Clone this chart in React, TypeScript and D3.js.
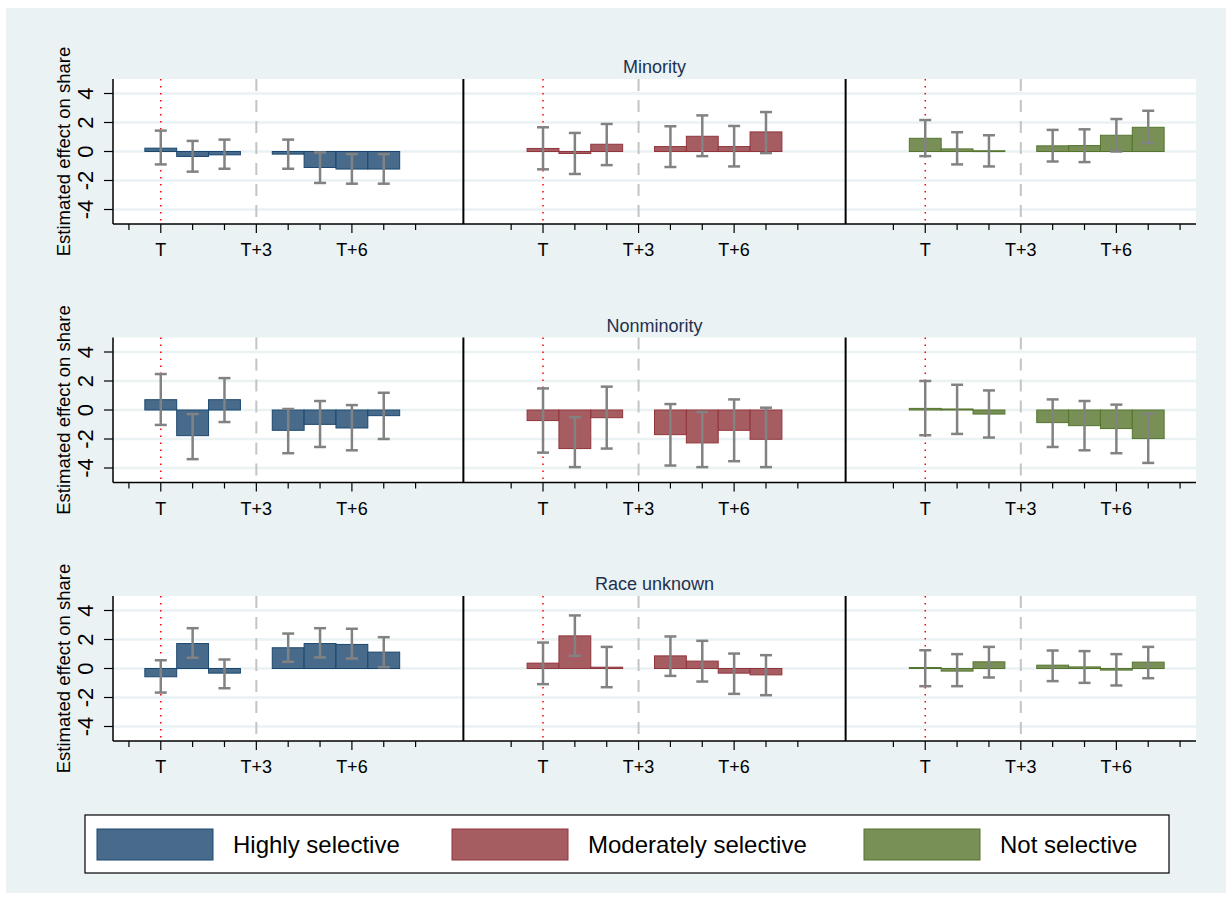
import React from 'react';
import * as d3 from 'd3';

// event periods that have an estimate (T+3 is the omitted reference)
const periods = [0, 1, 2, 4, 5, 6, 7];
const tickPeriods = [-1, 0, 1, 2, 3, 4, 5, 6, 7, 8];
const tickLabels: Record<number, string> = { 0: 'T', 3: 'T+3', 6: 'T+6' };
const yTicks = [-4, -2, 0, 2, 4];

const selectivity = ['Highly selective', 'Moderately selective', 'Not selective'];
const fills = ['#486b8c', '#a65d62', '#789056'];
const strokes = ['#1a476f', '#90353b', '#55752f'];

const panels = ['Minority', 'Nonminority', 'Race unknown'];

// rows: highly, moderately, not selective
const minorityEst = [
  [0.23, -0.34, -0.23, -0.18, -1.1, -1.21, -1.21],
  [0.21, -0.14, 0.5, 0.34, 1.05, 0.34, 1.35],
  [0.91, 0.18, 0.05, 0.39, 0.41, 1.12, 1.67],
];
const minorityLo = [
  [-0.89, -1.39, -1.19, -1.19, -2.17, -2.22, -2.22],
  [-1.23, -1.55, -0.94, -1.07, -0.32, -1.03, -0.11],
  [-0.32, -0.89, -1.03, -0.69, -0.73, 0.0, 0.59],
];
const minorityHi = [
  [1.44, 0.73, 0.82, 0.82, -0.07, -0.18, -0.18],
  [1.67, 1.28, 1.9, 1.74, 2.49, 1.76, 2.72],
  [2.17, 1.33, 1.12, 1.49, 1.53, 2.24, 2.81],
];

const nonminorityEst = [
  [0.71, -1.77, 0.71, -1.4, -0.99, -1.24, -0.39],
  [-0.73, -2.66, -0.53, -1.7, -2.27, -1.4, -2.02],
  [0.11, 0.07, -0.28, -0.87, -1.08, -1.28, -1.97],
];
const nonminorityLo = [
  [-1.03, -3.39, -0.83, -2.98, -2.55, -2.78, -2.0],
  [-2.94, -3.94, -2.66, -3.83, -3.94, -3.53, -3.94],
  [-1.74, -1.65, -1.9, -2.55, -2.78, -2.98, -3.65],
];
const nonminorityHi = [
  [2.48, -0.28, 2.2, 0.07, 0.62, 0.34, 1.19],
  [1.49, -0.5, 1.61, 0.41, -0.14, 0.73, 0.16],
  [2.0, 1.74, 1.35, 0.73, 0.62, 0.37, -0.25],
];

const unknownEst = [
  [-0.57, 1.72, -0.32, 1.43, 1.72, 1.66, 1.13],
  [0.37, 2.25, 0.09, 0.87, 0.51, -0.32, -0.44],
  [0.07, -0.18, 0.46, 0.23, 0.11, -0.11, 0.44],
];
const unknownLo = [
  [-1.66, 0.74, -1.36, 0.46, 0.76, 0.69, 0.09],
  [-1.08, 0.87, -1.29, -0.51, -0.9, -1.75, -1.84],
  [-1.22, -1.22, -0.62, -0.87, -0.99, -1.17, -0.67],
];
const unknownHi = [
  [0.57, 2.78, 0.62, 2.41, 2.78, 2.74, 2.16],
  [1.79, 3.66, 1.49, 2.21, 1.91, 1.03, 0.92],
  [1.26, 0.99, 1.49, 1.24, 1.2, 0.99, 1.49],
];

const panelData = [
  { est: minorityEst, lo: minorityLo, hi: minorityHi },
  { est: nonminorityEst, lo: nonminorityLo, hi: nonminorityHi },
  { est: unknownEst, lo: unknownLo, hi: unknownHi },
];

const font = '"Liberation Sans", Arial, Helvetica, sans-serif';
const bg = '#eaf2f3';

const plotLeft = 113;
const plotRight = 1196;
const rowTops = [79, 337.5, 596];
const rowHeight = 145;
const groupOffset = 12;

const x = d3.scaleLinear().domain([-1.5, 32.5]).range([plotLeft, plotRight]);

const Panel = ({ row }: { row: number }) => {
  const top = rowTops[row];
  const bottom = top + rowHeight;
  const y = d3.scaleLinear().domain([-5, 5]).range([bottom, top]);
  const d = panelData[row];
  const unit = x(1) - x(0);
  const cap = 6;
  return (
    <g>
      <rect x={plotLeft} y={top} width={plotRight - plotLeft} height={rowHeight} fill="#fff" />
      {yTicks.map((v) => (
        <line key={v} x1={plotLeft} x2={plotRight} y1={y(v)} y2={y(v)} stroke={bg} strokeWidth={2.5} />
      ))}
      {selectivity.map((_, g) => {
        const off = g * groupOffset;
        return (
          <g key={g}>
            <line x1={x(off)} x2={x(off)} y1={top} y2={bottom} stroke="#ff0000" strokeWidth={1.5} strokeDasharray="1.5 5.5" />
            <line x1={x(off + 3)} x2={x(off + 3)} y1={top} y2={bottom} stroke="#c4c4c4" strokeWidth={2} strokeDasharray="12 9" />
            {periods.map((p, i) => {
              const v = d.est[g][i];
              return (
                <rect
                  key={p}
                  x={x(off + p - 0.5)}
                  width={unit}
                  y={y(Math.max(0, v))}
                  height={Math.max(0.8, Math.abs(y(v) - y(0)))}
                  fill={fills[g]}
                  stroke={strokes[g]}
                  strokeWidth={1}
                />
              );
            })}
            {periods.map((p, i) => {
              const cx = x(off + p);
              const ylo = y(d.lo[g][i]);
              const yhi = y(d.hi[g][i]);
              return (
                <g key={'e' + p} stroke="#828282" strokeWidth={2.5}>
                  <line x1={cx} x2={cx} y1={yhi} y2={ylo} />
                  <line x1={cx - cap} x2={cx + cap} y1={yhi} y2={yhi} />
                  <line x1={cx - cap} x2={cx + cap} y1={ylo} y2={ylo} />
                </g>
              );
            })}
            {tickPeriods.map((t) => (
              <g key={'t' + t}>
                <line
                  x1={x(off + t)}
                  x2={x(off + t)}
                  y1={bottom}
                  y2={bottom + (tickLabels[t] ? 9 : 6)}
                  stroke="#000"
                  strokeWidth={1.2}
                />
                {tickLabels[t] && (
                  <text x={x(off + t)} y={bottom + 32} textAnchor="middle" fontSize={18} fontFamily={font} fill="#000">
                    {tickLabels[t]}
                  </text>
                )}
              </g>
            ))}
          </g>
        );
      })}
      {[9.5, 21.5].map((s) => (
        <line key={s} x1={x(s)} x2={x(s)} y1={top} y2={bottom} stroke="#000" strokeWidth={2} />
      ))}
      <line x1={plotLeft} x2={plotRight} y1={bottom} y2={bottom} stroke="#000" strokeWidth={1.5} />
      <line x1={plotLeft} x2={plotLeft} y1={top} y2={bottom} stroke="#000" strokeWidth={1.5} />
      {yTicks.map((v) => (
        <g key={'y' + v}>
          <line x1={plotLeft - 9} x2={plotLeft} y1={y(v)} y2={y(v)} stroke="#000" strokeWidth={1.2} />
          <text
            transform={`translate(93,${y(v)}) rotate(-90)`}
            textAnchor="middle"
            fontSize={22}
            fontFamily={font}
            fill="#000"
          >
            {v}
          </text>
        </g>
      ))}
      <text
        transform={`translate(70,${(top + bottom) / 2}) rotate(-90)`}
        textAnchor="middle"
        fontSize={18.5}
        fontFamily={font}
        fill="#000"
      >
        Estimated effect on share
      </text>
      <text x={(plotLeft + plotRight) / 2} y={top - 6} textAnchor="middle" fontSize={18} fontFamily={font} fill="#1e3050">
        {panels[row]}
      </text>
    </g>
  );
};

const legendSwatchX = [97, 452, 864];
const legendTextX = [233, 588, 1000];

const App = () => {
  return (
    <svg width={1232} height={900} style={{ position: 'absolute', left: 0, top: 0 }}>
      <rect x={0} y={0} width={1232} height={900} fill="#fff" />
      <rect x={6} y={8} width={1220} height={885} fill={bg} />
      {panels.map((_, r) => (
        <Panel key={r} row={r} />
      ))}
      <rect x={85} y={815} width={1084} height={58} fill="#fff" stroke="#000" strokeWidth={1.2} />
      {selectivity.map((s, i) => (
        <g key={s}>
          <rect x={legendSwatchX[i]} y={829} width={116} height={31} fill={fills[i]} stroke={strokes[i]} strokeWidth={1} />
          <text x={legendTextX[i]} y={853} fontSize={24} fontFamily={font} fill="#000">
            {s}
          </text>
        </g>
      ))}
    </svg>
  );
};

export default App;
